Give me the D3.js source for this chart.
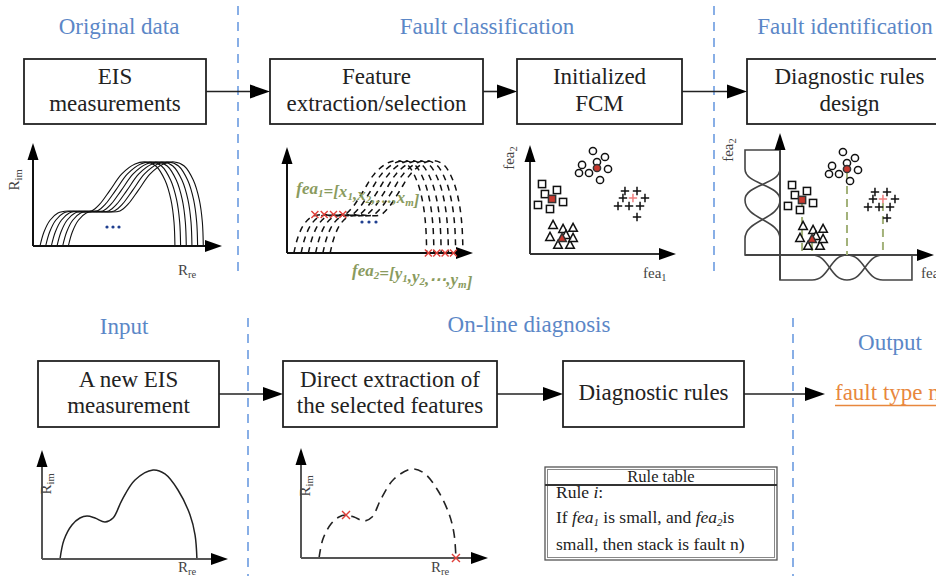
<!DOCTYPE html>
<html><head><meta charset="utf-8">
<script src="https://cdn.jsdelivr.net/npm/d3@7"></script>
<style>
body{margin:0;background:#fff}
svg{display:block;font-family:"Liberation Serif","Times New Roman",serif}
</style>
</head><body>
<svg id="c" width="936" height="576"></svg>
<script>
// ================= DATA =================
const sectionTitles = ["Original data","Fault classification","Fault identification","Input","On-line diagnosis","Output"];
const topBoxLabels = [["EIS","measurements"],["Feature","extraction/selection"],["Initialized","FCM"],["Diagnostic rules","design"]];
const bottomBoxLabels = [["A new EIS","measurement"],["Direct extraction of","the selected features"],["Diagnostic rules"]];
const outputLabel = "fault type n";
const ruleTitle = "Rule table";

// historical EIS spectra (Rre, Rim), one base curve shifted along Rre
const eisRe = [3.7,5.8,9,13.2,18.5,26,31,35.4,40.7,47,54,59.8,65,69.8,73,74.6,75.1];
const eisIm = [0,13.6,25,32,34,33,34,40.8,54,70,79.6,81.6,77.7,64,44.7,23.3,0];
const eisShifts = [0,3,6,9,12,15];

// extracted features on the historical spectra
const fea1Re = [15,20,25,30];  const fea1Im = [34,34,34,34];
const fea2Re = [76,80.5,85,89.5]; const fea2Im = [0,0,0,0];

// a new EIS measurement
const newRe = [9.7,11.8,16.1,20.4,24.2,28.5,33.9,38.2,43,50,59.7,66.1,73.1,79.6,82.3,83.3];
const newIm = [0,17.4,31.2,37.6,39.4,37.6,33.9,37.6,54.1,72.5,81.7,78,63.3,40.4,22,0];
const newFeatIdx = [4,15];

// FCM clusters in feature space (fea1, fea2)
const clusterShapes = ["square","circle","triangle","plus"];
const clusterFea1 = [[0.83,1.03,1.86,2.28,1.38,0.55],
                     [4.34,5.17,5.38,4.83,4.07,3.38,3.59,4.62],
                     [1.59,2.28,2.97,1.38,1.93,2.76,2.97,2.48],
                     [6.55,7.38,7.93,6.07,6.83,7.59,7.38,6.41]];
const clusterFea2 = [[6.42,5.5,5.87,4.77,4.13,4.5],
                     [9.45,8.9,7.8,6.79,7.43,7.43,8.17,8.44],
                     [2.66,2.29,2.39,1.56,0.83,0.83,1.47,1.74],
                     [5.78,5.78,5.14,4.4,4.4,4.4,3.39,5.14]];
const centerFea1 = [1.52,4.62,2.21,7.1];
const centerFea2 = [5.05,7.89,1.47,5.14];

// membership functions on fea2 (mu, fea2) and on fea1 (fea1, mu)
const mfFea2 = [[[0,9.63],[1,9.63],[1,7.89],[0,5.05]],
                [[0,7.89],[1,5.05],[0,1.47]],
                [[0,5.05],[1,1.47],[1,0],[0,0]]];
const mfFea1 = [[[0,0],[0,1],[2.21,1],[4.62,0]],
                [[2.21,0],[4.62,1],[7.1,0]],
                [[4.62,0],[7.1,1],[9.1,1],[9.1,0]]];

// ================= LAYOUT =================
const W = 936, H = 576;
const BLUE = "#5b87c7", DASH_BLUE = "#6b9be0", GREEN = "#8a9b5e", RED = "#e0403a", ORANGE = "#e8873d";
const titlePos = [[119,34],[487,34],[845,34],[124,334],[529,332],[890,350]];
const topBoxes = [[24,59,182,65],[270,59,213,65],[517,59,165,65],[747,59,205,65]];
const botBoxes = [[38,361,181,66],[283,361,214,66],[563,361,181,66]];
const vLines = [[238,6,272],[714,6,272],[248,318,576],[793,318,576]];

const svg = d3.select("#c");
svg.append("rect").attr("width",W).attr("height",H).attr("fill","#fff");

function arrowHead(g, x, y, dir, len, wid, color){
  let p;
  if(dir==="right") p=[[x,y],[x-len,y-wid/2],[x-len,y+wid/2]];
  else p=[[x,y],[x-wid/2,y+len],[x+wid/2,y+len]];
  g.append("path").attr("d",d3.line()(p)+"Z").attr("fill",color||"#000");
}

// dashed separators
svg.selectAll(".vl").data(vLines).join("line")
  .attr("x1",d=>d[0]).attr("x2",d=>d[0]).attr("y1",d=>d[1]).attr("y2",d=>d[2])
  .attr("stroke",DASH_BLUE).attr("stroke-width",1.6).attr("stroke-dasharray","9,7");

// titles
svg.selectAll(".tt").data(sectionTitles).join("text")
  .attr("x",(d,i)=>titlePos[i][0]).attr("y",(d,i)=>titlePos[i][1])
  .attr("text-anchor","middle").attr("font-size",23).attr("fill",BLUE).text(d=>d);

// boxes
function drawBoxes(boxes, labels, lineH){
  boxes.forEach((b,i)=>{
    svg.append("rect").attr("x",b[0]).attr("y",b[1]).attr("width",b[2]).attr("height",b[3])
      .attr("fill","#fff").attr("stroke","#222").attr("stroke-width",1.8);
    const cx=b[0]+b[2]/2, cy=b[1]+b[3]/2, n=labels[i].length;
    labels[i].forEach((t,j)=>{
      svg.append("text").attr("x",cx).attr("y",cy-(n-1)*lineH/2+6+j*lineH)
        .attr("text-anchor","middle").attr("font-size",23).attr("fill","#222").text(t);
    });
  });
}
drawBoxes(topBoxes, topBoxLabels, 27);
drawBoxes(botBoxes, bottomBoxLabels, 26);

// flow arrows
function flowArrow(x1,x2,y){
  svg.append("line").attr("x1",x1).attr("x2",x2-18).attr("y1",y).attr("y2",y).attr("stroke","#222").attr("stroke-width",1.6);
  arrowHead(svg,x2,y,"right",20,14,"#000");
}
for(let i=0;i<topBoxes.length-1;i++){
  const a=topBoxes[i], b=topBoxes[i+1];
  flowArrow(a[0]+a[2], b[0], a[1]+a[3]/2);
}
for(let i=0;i<botBoxes.length-1;i++){
  const a=botBoxes[i], b=botBoxes[i+1];
  flowArrow(a[0]+a[2], b[0], a[1]+a[3]/2);
}
{ const a=botBoxes[2]; flowArrow(a[0]+a[2], 825, a[1]+a[3]/2); }

// output
svg.append("text").attr("x",835).attr("y",400).attr("font-size",23).attr("fill",ORANGE).text(outputLabel);
svg.append("line").attr("x1",835).attr("x2",W).attr("y1",405.5).attr("y2",405.5).attr("stroke",ORANGE).attr("stroke-width",1.6);

// ---------- mini chart helpers ----------
function axes(g, ox, oy, xStart, xTip, yStart, yTip, color, sw){
  g.append("line").attr("x1",xStart).attr("x2",xTip-14).attr("y1",oy).attr("y2",oy).attr("stroke",color).attr("stroke-width",sw);
  g.append("line").attr("x1",ox).attr("x2",ox).attr("y1",yStart).attr("y2",yTip+14).attr("stroke",color).attr("stroke-width",sw);
  arrowHead(g,xTip,oy,"right",17,12,"#000");
  arrowHead(g,ox,yTip,"up",17,11,"#000");
}
function rLabel(g, x, y, sub, rotate, size){
  const t=g.append("text").attr("font-size",size||15).attr("fill","#444");
  if(rotate) t.attr("transform",`translate(${x},${y}) rotate(-90)`).attr("text-anchor","middle");
  else t.attr("x",x).attr("y",y);
  t.append("tspan").text(sub[0]);
  t.append("tspan").attr("font-size",(size||15)*0.7).attr("dy",3).text(sub[1]);
}
function xMark(g,x,y,r){
  g.append("path").attr("d",`M${x-r},${y-r}L${x+r},${y+r}M${x-r},${y+r}L${x+r},${y-r}`)
    .attr("stroke",RED).attr("stroke-width",1.4).attr("fill","none");
}
function marker(g, shape, x, y, fill, stroke){
  const s=3.6;
  let el;
  if(shape==="square") el=g.append("rect").attr("x",x-s).attr("y",y-s).attr("width",2*s).attr("height",2*s);
  else if(shape==="circle") el=g.append("circle").attr("cx",x).attr("cy",y).attr("r",s);
  else if(shape==="triangle") el=g.append("path").attr("d",`M${x},${y-4.6}L${x+4.3},${y+3.4}L${x-4.3},${y+3.4}Z`);
  else el=g.append("path").attr("d",`M${x-4.2},${y}H${x+4.2}M${x},${y-4.2}V${y+4.2}`);
  el.attr("fill",shape==="plus"?"none":fill).attr("stroke",shape==="plus"?(fill==="#fff"?"#111":fill):stroke).attr("stroke-width",1.5);
}

// ---------- chart 1 : EIS spectra ----------
{
  const g=svg.append("g");
  const sx=d3.scaleLinear().domain([0,100]).range([33,222]);
  const sy=d3.scaleLinear().domain([0,100]).range([246,143]);
  const line=d3.line().x(d=>sx(d[0])).y(d=>sy(d[1])).curve(d3.curveCatmullRom.alpha(0.5));
  eisShifts.forEach(s=>{
    g.append("path").attr("d",line(eisRe.map((r,i)=>[r+s,eisIm[i]]))).attr("fill","none").attr("stroke","#111").attr("stroke-width",1.1);
  });
  axes(g,33,246,33,222,246,143,"#111",2);
  [107,113,119].forEach(x=>g.append("circle").attr("cx",x).attr("cy",227).attr("r",1.6).attr("fill","#1f3f8f"));
  rLabel(g,19,180,["R","im"],true);
  rLabel(g,178,275,["R","re"],false);
}

// ---------- chart 2 : feature extraction ----------
{
  const g=svg.append("g");
  const sx=d3.scaleLinear().domain([0,100]).range([287,473]);
  const sy=d3.scaleLinear().domain([0,100]).range([253,140]);
  const line=d3.line().x(d=>sx(d[0])).y(d=>sy(d[1])).curve(d3.curveCatmullRom.alpha(0.5));
  eisShifts.forEach(s=>{
    g.append("path").attr("d",line(eisRe.map((r,i)=>[r+s*1.3,eisIm[i]]))).attr("fill","none").attr("stroke","#111").attr("stroke-width",1.5).attr("stroke-dasharray","6,5");
  });
  axes(g,287,253,287,473,253,147,"#111",2);
  [362,369,376].forEach(x=>g.append("circle").attr("cx",x).attr("cy",222).attr("r",1.6).attr("fill","#1f3f8f"));
  fea1Re.forEach((r,i)=>xMark(g,sx(r),sy(fea1Im[i]),3.5));
  fea2Re.forEach((r,i)=>xMark(g,sx(r),sy(fea2Im[i]),3.5));
  const t1=g.append("text").attr("x",sx(5)).attr("y",sy(52)).attr("font-size",17).attr("font-style","italic").attr("font-weight","bold").attr("fill",GREEN);
  [["fea",0],["1",1],["=[x",0],["1",1],[",x",0],["2",1],[",…,x",0],["m",1],["]",0]].forEach(p=>{
    t1.append("tspan").attr("font-size",p[1]?11:17).attr("dy",p[1]?3:null).text(p[0]);
    if(p[1]) t1.append("tspan").attr("dy",-3).text("");
  });
  const t2=g.append("text").attr("x",sx(35)).attr("y",sy(-20)).attr("font-size",17).attr("font-style","italic").attr("font-weight","bold").attr("fill",GREEN);
  [["fea",0],["2",1],["=[y",0],["1",1],[",y",0],["2",1],[",⋯,y",0],["m",1],["]",0]].forEach(p=>{
    t2.append("tspan").attr("font-size",p[1]?11:17).attr("dy",p[1]?3:null).text(p[0]);
    if(p[1]) t2.append("tspan").attr("dy",-3).text("");
  });
}

// ---------- chart 3 & 4 : clusters ----------
function drawClusters(g, sx, sy){
  clusterShapes.forEach((sh,k)=>{
    clusterFea1[k].forEach((f,i)=>marker(g,sh,sx(f),sy(clusterFea2[k][i]),"#fff","#111"));
    marker(g,sh,sx(centerFea1[k]),sy(centerFea2[k]),sh==="plus"?"#f08080":"#c8382e","#333");
  });
}
{
  const g=svg.append("g");
  const sx=d3.scaleLinear().domain([0,10]).range([530,675]);
  const sy=d3.scaleLinear().domain([0,10]).range([254,145]);
  axes(g,530,254,530,676,254,145,"#333",2);
  drawClusters(g,sx,sy);
  rLabel(g,514,158,["fea","2"],true,15);
  rLabel(g,643,278,["fea","1"],false,15);
}
{
  const g=svg.append("g");
  const sx=d3.scaleLinear().domain([0,10]).range([780,925]);
  const sy=d3.scaleLinear().domain([0,10]).range([255,146]);
  const mu=d3.scaleLinear().domain([0,1]).range([780,745]);
  const mv=d3.scaleLinear().domain([0,1]).range([255,280]);
  const lineL=d3.line().x(d=>mu(d[0])).y(d=>sy(d[1])).curve(d3.curveBumpY);
  mfFea2.forEach(p=>g.append("path").attr("d",lineL(p)).attr("fill","none").attr("stroke","#444").attr("stroke-width",1.6));
  const lineB=d3.line().x(d=>sx(d[0])).y(d=>mv(d[1])).curve(d3.curveBumpX);
  mfFea1.forEach(p=>g.append("path").attr("d",lineB(p)).attr("fill","none").attr("stroke","#444").attr("stroke-width",1.6));
  axes(g,780,255,745,934,280,133,"#444",2);
  centerFea1.forEach((f,k)=>{
    g.append("line").attr("x1",sx(f)).attr("x2",sx(f)).attr("y1",sy(centerFea2[k])+4).attr("y2",sy(0))
      .attr("stroke","#a3b27a").attr("stroke-width",2).attr("stroke-dasharray","8,5");
  });
  drawClusters(g,sx,sy);
  rLabel(g,733,150,["fea","2"],true,15);
  rLabel(g,921,278,["fea","1"],false,15);
}

// ---------- chart 5 : new EIS ----------
{
  const g=svg.append("g");
  const sx=d3.scaleLinear().domain([0,100]).range([42,228]);
  const sy=d3.scaleLinear().domain([0,100]).range([559,450]);
  const line=d3.line().x((d,i)=>sx(newRe[i])).y((d,i)=>sy(newIm[i])).curve(d3.curveCatmullRom.alpha(0.5));
  g.append("path").attr("d",line(newRe)).attr("fill","none").attr("stroke","#222").attr("stroke-width",1.5);
  axes(g,42,559,42,228,559,450,"#555",2);
  rLabel(g,51,484,["R","im"],true);
  rLabel(g,178,572,["R","re"],false);
}
// ---------- chart 6 : extraction on new EIS ----------
{
  const g=svg.append("g");
  const sx=d3.scaleLinear().domain([0,100]).range([301,487]);
  const sy=d3.scaleLinear().domain([0,100]).range([558,449]);
  const line=d3.line().x((d,i)=>sx(newRe[i])).y((d,i)=>sy(newIm[i])).curve(d3.curveCatmullRom.alpha(0.5));
  g.append("path").attr("d",line(newRe)).attr("fill","none").attr("stroke","#222").attr("stroke-width",1.6).attr("stroke-dasharray","9,6");
  axes(g,301,558,301,488,558,448,"#555",2);
  newFeatIdx.forEach(i=>xMark(g,sx(newRe[i]),sy(newIm[i]),4));
  rLabel(g,310,486,["R","im"],true);
  rLabel(g,431,572,["R","re"],false);
}

// ---------- rule table ----------
{
  const g=svg.append("g");
  g.append("rect").attr("x",545).attr("y",467).attr("width",232).attr("height",93).attr("fill","#fff").attr("stroke","#555").attr("stroke-width",1.3);
  g.append("rect").attr("x",547.5).attr("y",469.5).attr("width",227).attr("height",88).attr("fill","none").attr("stroke","#888").attr("stroke-width",1);
  g.append("line").attr("x1",545).attr("x2",777).attr("y1",485).attr("y2",485).attr("stroke","#333").attr("stroke-width",2);
  g.append("text").attr("x",661).attr("y",482).attr("text-anchor","middle").attr("font-size",16.5).attr("fill","#222").text(ruleTitle);
  const fs=17.5;
  const l1=g.append("text").attr("x",556).attr("y",498).attr("font-size",fs).attr("fill","#222");
  l1.append("tspan").text("Rule ");
  l1.append("tspan").attr("font-style","italic").text("i");
  l1.append("tspan").text(":");
  const l2=g.append("text").attr("x",556).attr("y",523).attr("font-size",fs).attr("fill","#222");
  l2.append("tspan").text("If ");
  l2.append("tspan").attr("font-style","italic").text("fea");
  l2.append("tspan").attr("font-style","italic").attr("font-size",11).attr("dy",3).text("1");
  l2.append("tspan").attr("dy",-3).text(" is small, and ");
  l2.append("tspan").attr("font-style","italic").text("fea");
  l2.append("tspan").attr("font-style","italic").attr("font-size",11).attr("dy",3).text("2");
  l2.append("tspan").attr("dy",-3).text("is");
  g.append("text").attr("x",556).attr("y",550).attr("font-size",fs).attr("fill","#222").text("small, then stack is fault n)");
}
</script>
</body></html>
